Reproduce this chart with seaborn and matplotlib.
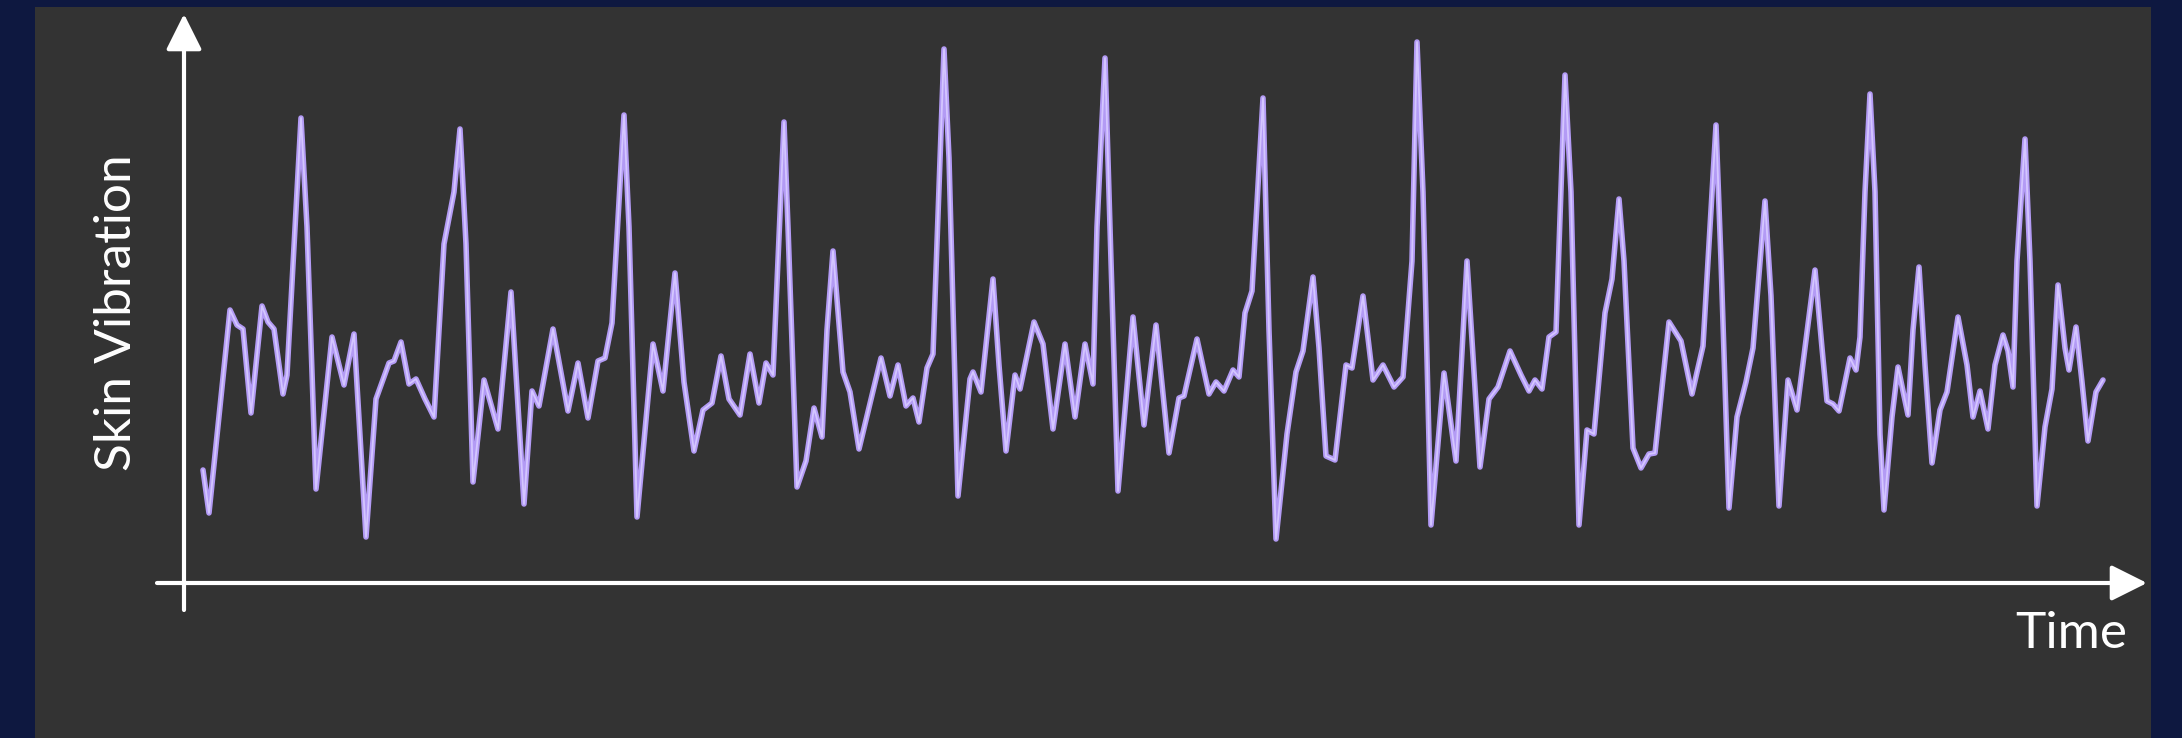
#Senal de vibracion de la piel en el tiempo

import seaborn as sns
import matplotlib.pyplot as plt

# tiempo (unidades arbitrarias) y amplitud
time = [0.19, 0.25, 0.46, 0.53, 0.59, 0.67, 0.78, 0.84, 0.90, 0.99, 1.03, 1.17, 1.23, 1.32,
        1.48, 1.60, 1.70, 1.82, 1.92, 2.05, 2.10, 2.17, 2.25, 2.32, 2.41, 2.50, 2.60, 2.66,
        2.70, 2.76, 2.82, 2.89, 3.00, 3.14, 3.27, 3.40, 3.48, 3.55, 3.69, 3.84, 3.94, 4.04,
        4.14, 4.21, 4.28, 4.40, 4.45, 4.53, 4.69, 4.79, 4.91, 5.00, 5.10, 5.19, 5.28, 5.37,
        5.45, 5.56, 5.66, 5.75, 5.82, 5.89, 6.00, 6.04, 6.13, 6.22, 6.30, 6.38, 6.43, 6.49,
        6.59, 6.66, 6.75, 6.97, 7.06, 7.14, 7.22, 7.29, 7.35, 7.43, 7.49, 7.60, 7.65, 7.74,
        7.86, 7.89, 7.97, 8.09, 8.15, 8.22, 8.31, 8.36, 8.50, 8.59, 8.69, 8.81, 8.91, 9.01,
        9.09, 9.13, 9.21, 9.27, 9.34, 9.49, 9.60, 9.72, 9.85, 9.95, 10.00, 10.13, 10.25, 10.32,
        10.40, 10.49, 10.55, 10.61, 10.68, 10.79, 10.85, 10.92, 11.03, 11.12, 11.19, 11.29, 11.35,
        11.42, 11.51, 11.62, 11.68, 11.79, 11.89, 11.99, 12.10, 12.19, 12.28, 12.33, 12.39, 12.47,
        12.60, 12.72, 12.83, 12.96, 13.05, 13.14, 13.26, 13.37, 13.45, 13.51, 13.58, 13.65, 13.72,
        13.81, 13.87, 13.95, 14.03, 14.10, 14.21, 14.28, 14.35, 14.40, 14.49, 14.57, 14.65, 14.71,
        14.85, 14.97, 15.08, 15.19, 15.32, 15.37, 15.45, 15.53, 15.62, 15.69, 15.81, 15.87, 15.95,
        16.04, 16.13, 16.31, 16.38, 16.43, 16.49, 16.55, 16.61, 16.66, 16.72, 16.76, 16.81, 16.86,
        16.91, 16.96, 17.00, 17.08, 17.14, 17.24, 17.29, 17.35, 17.41, 17.48, 17.56, 17.63, 17.74,
        17.83, 17.89, 17.96, 18.04, 18.11, 18.19, 18.24, 18.29, 18.33, 18.41, 18.46, 18.53, 18.61,
        18.68, 18.74, 18.81, 18.85, 18.92, 18.98, 19.04, 19.12, 19.19]
vibration = [1.13, 0.70, 2.73, 2.58, 2.54, 1.70, 2.77, 2.61, 2.54, 1.89, 2.08, 4.65, 3.56, 0.94,
             2.46, 1.98, 2.49, 0.46, 1.84, 2.20, 2.22, 2.41, 1.99, 2.04, 1.84, 1.66, 3.39, 3.70,
             3.91, 4.54, 3.39, 1.01, 2.03, 1.54, 2.91, 0.79, 1.92, 1.77, 2.54, 1.72, 2.20, 1.65,
             2.22, 2.25, 2.60, 4.68, 3.56, 0.66, 2.39, 1.92, 3.10, 2.01, 1.32, 1.73, 1.80, 2.27,
             1.84, 1.68, 2.29, 1.80, 2.20, 2.08, 4.61, 3.56, 0.96, 1.22, 1.75, 1.46, 2.53, 3.32,
             2.11, 1.91, 1.34, 2.25, 1.87, 2.18, 1.77, 1.85, 1.61, 2.15, 2.29, 5.34, 4.25, 0.87,
             2.04, 2.11, 1.91, 3.04, 2.18, 1.32, 2.08, 1.94, 2.61, 2.39, 1.54, 2.39, 1.66, 2.39,
             1.99, 3.56, 5.25, 3.22, 0.92, 2.66, 1.58, 2.58, 1.30, 1.85, 1.87, 2.44, 1.89, 2.01,
             1.92, 2.13, 2.06, 2.70, 2.92, 4.85, 2.53, 0.44, 1.49, 2.11, 2.32, 3.06, 2.35,
             1.27, 1.23, 2.18, 2.15, 2.87, 2.03, 2.18, 1.96, 2.06, 3.22, 5.41, 3.91, 0.58,
             2.10, 1.22, 3.22, 1.16, 1.84, 1.96, 2.32, 2.08, 1.92, 2.03, 1.94, 2.46, 2.51,
             5.08, 3.91, 0.58, 1.53, 1.49, 2.70, 3.04, 3.84, 3.22, 1.35, 1.15, 1.29, 1.30,
             2.61, 2.42, 1.89, 2.37, 4.58, 3.22, 0.75, 1.66, 2.01, 2.35, 3.82, 2.87, 0.77,
             2.03, 1.73, 3.13, 2.35, 1.82, 1.79, 1.72, 2.01, 2.25, 2.13, 2.46, 3.91, 4.89,
             3.91, 1.49, 0.73, 1.66, 2.16, 1.68, 2.53, 3.16, 2.18, 1.20, 1.73, 1.91, 2.66,
             2.18, 1.66, 1.92, 1.54, 2.18, 2.48, 2.32, 1.96, 3.22, 4.44, 3.22, 0.77, 1.56,
             1.94, 2.98, 2.35, 2.13, 2.56, 2.01, 1.42, 1.91, 2.03]

x_label = "Time"
y_label = "Skin Vibration"

sns.set_theme(style="dark")
plt.rcParams['font.family'] = ['Lato', 'DejaVu Sans']

fig = plt.figure(figsize=(21.82, 7.38), dpi=100, facecolor="#0e1840")
ax = fig.add_axes([35/2182, 0, 2116/2182, 731/738])
ax.set_facecolor("#333333")

# linea con brillo claro en el centro
sns.lineplot(x=time, y=vibration, color="#b39bf5", linewidth=4.0, sort=False, ax=ax,
             solid_joinstyle="round", solid_capstyle="round")
sns.lineplot(x=time, y=vibration, color="#d4c6ff", linewidth=1.3, sort=False, ax=ax,
             solid_joinstyle="round", solid_capstyle="round")

ax.set_xlim(-1.49, 19.67)
ax.set_ylim(-1.55, 5.76)
ax.set_xticks([])
ax.set_yticks([])
ax.set_xlabel("")
ax.set_ylabel("")
for s in ax.spines.values():
    s.set_visible(False)

# ejes con flecha
flecha = dict(arrowstyle="-|>,head_length=1.0,head_width=0.5", color="white",
              lw=3, mutation_scale=22, shrinkA=0, shrinkB=0)
ax.annotate("", xy=(0, 5.69), xytext=(0, -0.27), arrowprops=flecha)
ax.annotate("", xy=(19.63, 0), xytext=(-0.27, 0), arrowprops=flecha)

ax.text(19.43, -0.51, x_label, color="white", fontsize=37, fontweight="normal",
        ha="right", va="center")
ax.text(-0.67, 2.70, y_label, color="white", fontsize=37, fontweight="normal",
        ha="center", va="center", rotation=90)

plt.savefig("out.png", dpi=100, facecolor=fig.get_facecolor())
